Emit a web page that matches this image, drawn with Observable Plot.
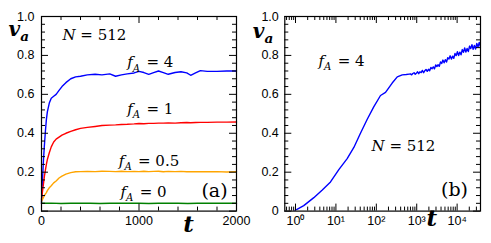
<!DOCTYPE html>
<html><head><meta charset="utf-8">
<script src="https://cdn.jsdelivr.net/npm/d3@7"></script>
<script src="https://cdn.jsdelivr.net/npm/@observablehq/plot@0.6"></script>
<style>
html,body{margin:0;padding:0;background:#fff;}
#wrap{position:relative;width:491px;height:243px;overflow:hidden;background:#fff;}
#pa,#pb{position:absolute;top:0;}
#pa{left:0;} #pb{left:245px;}
svg{overflow:visible;}
</style></head><body><div id="wrap"><div id="pa"></div><div id="pb"></div></div>
<script>
// ---------- Panel (a) data ----------
const tA = [0, 10, 20, 30, 40, 50, 60, 80, 100, 125, 150, 180, 210, 250, 300, 350, 400, 470, 550, 620, 700, 760, 820, 880, 950, 1000, 1050, 1100, 1150, 1200, 1250, 1300, 1370, 1430, 1490, 1530, 1580, 1630, 1700, 1800, 1900, 2000];
const vA_f4 = [0.04, 0.16, 0.26, 0.34, 0.41, 0.47, 0.51, 0.555, 0.58, 0.59, 0.60, 0.62, 0.64, 0.66, 0.68, 0.69, 0.693, 0.70, 0.703, 0.70, 0.705, 0.693, 0.70, 0.705, 0.71, 0.718, 0.712, 0.703, 0.712, 0.72, 0.712, 0.703, 0.712, 0.716, 0.71, 0.698, 0.71, 0.722, 0.718, 0.718, 0.72, 0.72];
const vA_f1 = [0.06, 0.10, 0.14, 0.18, 0.21, 0.24, 0.265, 0.30, 0.33, 0.355, 0.37, 0.38, 0.39, 0.40, 0.41, 0.418, 0.425, 0.43, 0.435, 0.44, 0.442, 0.443, 0.445, 0.446, 0.448, 0.45, 0.449, 0.451, 0.451, 0.452, 0.452, 0.453, 0.452, 0.454, 0.455, 0.454, 0.455, 0.456, 0.456, 0.457, 0.457, 0.458];
const vA_f05 = [0.05, 0.06, 0.07, 0.08, 0.088, 0.095, 0.105, 0.12, 0.13, 0.145, 0.155, 0.17, 0.18, 0.19, 0.198, 0.202, 0.203, 0.204, 0.203, 0.205, 0.204, 0.203, 0.205, 0.203, 0.204, 0.203, 0.205, 0.203, 0.204, 0.205, 0.202, 0.204, 0.203, 0.204, 0.202, 0.203, 0.202, 0.203, 0.202, 0.203, 0.201, 0.202];
const tA0 = [0, 100, 200, 300, 400, 500, 600, 700, 800, 900, 1000, 1100, 1200, 1300, 1400, 1500, 1600, 1700, 1800, 1900, 2000];
const vA_f0 = [0.04, 0.041, 0.039, 0.04, 0.041, 0.04, 0.039, 0.04, 0.041, 0.04, 0.04, 0.039, 0.04, 0.041, 0.04, 0.039, 0.04, 0.04, 0.041, 0.04, 0.04];
const seriesA = [
  {t: tA, v: vA_f4, color: "#0000ff"},
  {t: tA, v: vA_f1, color: "#ff0000"},
  {t: tA, v: vA_f05, color: "#ffa500"},
  {t: tA0, v: vA_f0, color: "#008000"}
];
const labelsA = [
  {text: "f_A = 4", t: 880, v: 0.738},
  {text: "f_A = 1", t: 880, v: 0.50},
  {text: "f_A = 0.5", t: 793, v: 0.231},
  {text: "f_A = 0", t: 810, v: 0.071},
  {text: "N = 512", t: 215, v: 0.879}
];

// ---------- Panel (b) data ----------
const tB = [0.91, 1.6, 2.84, 4.6, 7.35, 11.8, 19, 27.8, 40.5, 59.6, 87, 127, 169, 247, 330, 438, 550, 650,
  700, 750, 800, 860, 920, 980, 1050, 1120, 1200, 1290, 1380, 1480, 1580, 1700, 1820, 1950, 2090, 2240, 2400, 2570, 2750, 2950, 3160, 3380, 3620, 3880, 4150, 4450, 4770, 5100, 5470, 5860, 6280, 6720, 7200, 7720, 8270, 8860, 9490, 10170, 10900, 11680, 12510, 13400, 14360, 15390, 16490, 17670, 18930, 20280, 21730, 23280, 24950, 26730, 28640, 30690, 32880, 35230, 37750];
const vB = [0.0, 0.028, 0.069, 0.108, 0.15, 0.213, 0.27, 0.327, 0.40, 0.472, 0.537, 0.594, 0.61, 0.658, 0.69, 0.70, 0.702, 0.704,
  0.705, 0.700, 0.707, 0.711, 0.703, 0.708, 0.716, 0.706, 0.716, 0.712, 0.723, 0.711, 0.721, 0.728, 0.718, 0.729, 0.721, 0.738, 0.732, 0.741, 0.731, 0.751, 0.743, 0.752, 0.744, 0.767, 0.759, 0.776, 0.762, 0.778, 0.766, 0.788, 0.782, 0.798, 0.781, 0.796, 0.785, 0.810, 0.799, 0.819, 0.800, 0.817, 0.803, 0.830, 0.816, 0.838, 0.817, 0.836, 0.820, 0.848, 0.835, 0.855, 0.831, 0.851, 0.833, 0.862, 0.843, 0.867, 0.845];
const labelsB = [
  {text: "f_A = 4", t: 3.71, v: 0.748},
  {text: "N = 512", t: 76, v: 0.311}
];

// ---------- Tick values ----------
const yMajor = [0, 0.2, 0.4, 0.6, 0.8, 1.0];
const yMinor = d3.range(0, 25).map(i => i * 0.04).filter(v => !yMajor.some(m => Math.abs(m - v) < 1e-6));
const xMajorA = [0, 1000, 2000];
const xMinorA = [200, 400, 600, 800, 1200, 1400, 1600, 1800];
const xMajorB = [1, 10, 100, 1000, 10000];
const xMinorB = [0.6, 0.7, 0.8, 0.9];
for (let k = 0; k <= 4; k++) for (let m = 2; m <= 9; m++) { const v = m * 10 ** k; if (v < 37900) xMinorB.push(v); }
const yTickFormat = d => d === 0 ? "0" : d.toFixed(1);
const sup = {"0": "\u2070", "1": "\u00b9", "2": "\u00b2", "3": "\u00b3", "4": "\u2074"};
const xTickFormatB = d => "10" + sup[String(Math.round(Math.log10(d)))];

const H = 243;
const MATH_FONT = "DejaVu Serif";
const MAJ = 7, MIN = 4;
const MATH_STRINGS = new Set([...labelsA.map(d => d.text), ...labelsB.map(d => d.text), "v_a", "t"]);

function frameTicks(innerW, innerH, xMaj, xMin) {
  return [
    Plot.tickX(xMaj, {x: d => d, insetTop: innerH - MAJ, stroke: "black"}),
    Plot.tickX(xMaj, {x: d => d, insetBottom: innerH - MAJ, stroke: "black"}),
    Plot.tickX(xMin, {x: d => d, insetTop: innerH - MIN, stroke: "black"}),
    Plot.tickX(xMin, {x: d => d, insetBottom: innerH - MIN, stroke: "black"}),
    Plot.tickY(yMajor, {y: d => d, insetRight: innerW - MAJ, stroke: "black"}),
    Plot.tickY(yMajor, {y: d => d, insetLeft: innerW - MAJ, stroke: "black"}),
    Plot.tickY(yMinor, {y: d => d, insetRight: innerW - MIN, stroke: "black"}),
    Plot.tickY(yMinor, {y: d => d, insetLeft: innerW - MIN, stroke: "black"})
  ];
}

function richText(svg) {
  d3.select(svg).selectAll("text").each(function () {
    const s = this.textContent;
    if (!MATH_STRINGS.has(s)) return;
    if (this.closest('g[aria-label$="axis tick label"]')) return;
    const fs = parseFloat(getComputedStyle(this).fontSize) || 15;
    const el = d3.select(this);
    el.text(null);
    const re = /_(.)|([A-Za-z]+)|([^A-Za-z_]+)/g;
    let m;
    while ((m = re.exec(s))) {
      if (m[1]) {
        el.append("tspan").attr("dy", 0.28 * fs).attr("font-size", 0.68 * fs).attr("font-style", "italic").text(m[1]);
        el.append("tspan").attr("dy", -0.28 * fs).text("\u200a");
      } else if (m[2]) {
        el.append("tspan").attr("font-style", "italic").text(m[2]);
      } else {
        el.append("tspan").attr("font-style", "normal").text(m[3]);
      }
    }
  });
}

// ---------- Panel (a) ----------
const mA = {top: 16, right: 9, bottom: 32.4, left: 41};
const WA = 245;
const inWA = WA - mA.left - mA.right, inHA = H - mA.top - mA.bottom;
const rowsA = seriesA.flatMap((s, i) => s.t.map((t, j) => ({t, v: s.v[j], s: i})));

const plotA = Plot.plot({
  width: WA, height: H,
  marginTop: mA.top, marginRight: mA.right, marginBottom: mA.bottom, marginLeft: mA.left,
  style: {fontFamily: "'Liberation Sans', Arial, sans-serif", fontSize: "12.5px", background: "transparent", color: "black", overflow: "visible"},
  x: {domain: [0, 2000]},
  y: {domain: [0, 1]},
  marks: [
    ...seriesA.map((s, i) => Plot.line(rowsA.filter(r => r.s === i), {x: "t", y: "v", stroke: s.color, strokeWidth: 1.4})),
    ...frameTicks(inWA, inHA, xMajorA, xMinorA),
    Plot.frame({stroke: "black", strokeWidth: 1.2}),
    Plot.axisX({ticks: xMajorA, tickSize: 0, tickPadding: 5, label: null, tickFormat: d => String(d)}),
    Plot.axisY({ticks: yMajor, tickSize: 0, tickPadding: 7, label: null, tickFormat: yTickFormat}),
    Plot.text(labelsA, {x: "t", y: "v", text: "text", textAnchor: "start", lineAnchor: "bottom", fontFamily: MATH_FONT, fontSize: 15, fill: "black"}),
    Plot.text(["v_a"], {text: d => d, frameAnchor: "top-left", dx: -33, dy: 19, textAnchor: "start", lineAnchor: "bottom", fontFamily: MATH_FONT, fontSize: 20, fontWeight: "bold", fill: "black"}),
    Plot.text(["t"], {text: d => d, frameAnchor: "bottom-left", dx: 147, dy: 21, textAnchor: "middle", lineAnchor: "bottom", fontFamily: MATH_FONT, fontSize: 23, fontWeight: "bold", fill: "black"}),
    Plot.text(["(a)"], {text: d => d, x: 1640, y: 0.071, textAnchor: "start", lineAnchor: "bottom", fontFamily: MATH_FONT, fontSize: 19, fill: "black"})
  ]
});
document.getElementById("pa").appendChild(plotA);
richText(plotA);

// ---------- Panel (b) ----------
const mB = {top: 16, right: 11, bottom: 32.4, left: 39.3};
const WB = 246;
const inWB = WB - mB.left - mB.right, inHB = H - mB.top - mB.bottom;
const rowsB = tB.map((t, i) => ({t, v: vB[i]}));

const plotB = Plot.plot({
  width: WB, height: H,
  marginTop: mB.top, marginRight: mB.right, marginBottom: mB.bottom, marginLeft: mB.left,
  style: {fontFamily: "'Liberation Sans', Arial, sans-serif", fontSize: "12.5px", background: "transparent", color: "black", overflow: "visible"},
  x: {type: "log", domain: [0.543, 37900]},
  y: {domain: [0, 1]},
  marks: [
    Plot.line(rowsB, {x: "t", y: "v", stroke: "#0000ff", strokeWidth: 1.4, clip: true}),
    ...frameTicks(inWB, inHB, xMajorB, xMinorB),
    Plot.frame({stroke: "black", strokeWidth: 1.2}),
    Plot.axisX({ticks: xMajorB, tickSize: 0, tickPadding: 5, label: null, tickFormat: xTickFormatB}),
    Plot.axisY({ticks: yMajor, tickSize: 0, tickPadding: 6, label: null, tickFormat: yTickFormat}),
    Plot.text(labelsB, {x: "t", y: "v", text: "text", textAnchor: "start", lineAnchor: "bottom", fontFamily: MATH_FONT, fontSize: 15, fill: "black"}),
    Plot.text(["v_a"], {text: d => d, frameAnchor: "top-left", dx: -32, dy: 21, textAnchor: "start", lineAnchor: "bottom", fontFamily: MATH_FONT, fontSize: 20, fontWeight: "bold", fill: "black"}),
    Plot.text(["t"], {text: d => d, frameAnchor: "bottom-left", dx: 147, dy: 15, textAnchor: "middle", lineAnchor: "bottom", fontFamily: MATH_FONT, fontSize: 23, fontWeight: "bold", fill: "black"}),
    Plot.text(["(b)"], {text: d => d, x: 4000, y: 0.08, textAnchor: "start", lineAnchor: "bottom", fontFamily: MATH_FONT, fontSize: 19, fill: "black"})
  ]
});
document.getElementById("pb").appendChild(plotB);
richText(plotB);
</script></body></html>
